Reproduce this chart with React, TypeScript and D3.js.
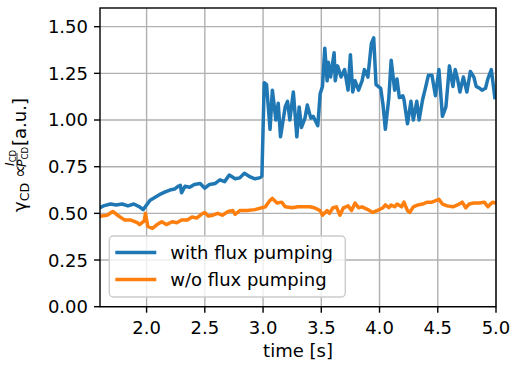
import React, { useEffect, useRef } from 'react';
import * as d3 from 'd3';

// with flux pumping (blue)
const withTime = [1.60, 1.63, 1.69, 1.74, 1.79, 1.84, 1.89, 1.94, 1.97, 2.00, 2.03, 2.07, 2.11, 2.16, 2.20, 2.24, 2.27, 2.29, 2.30, 2.33, 2.37, 2.41, 2.46, 2.50, 2.54, 2.59, 2.63, 2.67, 2.71, 2.76, 2.80, 2.84, 2.89, 2.93, 2.97, 2.99, 3.01, 3.03, 3.06, 3.08, 3.11, 3.13, 3.15, 3.19, 3.21, 3.23, 3.26, 3.29, 3.31, 3.33, 3.36, 3.38, 3.41, 3.43, 3.47, 3.49, 3.51, 3.53, 3.55, 3.56, 3.58, 3.61, 3.62, 3.64, 3.67, 3.70, 3.73, 3.75, 3.77, 3.79, 3.82, 3.85, 3.87, 3.90, 3.93, 3.95, 3.97, 4.01, 4.03, 4.05, 4.08, 4.10, 4.13, 4.15, 4.17, 4.20, 4.21, 4.24, 4.27, 4.29, 4.32, 4.34, 4.37, 4.39, 4.42, 4.45, 4.48, 4.51, 4.54, 4.57, 4.60, 4.63, 4.65, 4.67, 4.69, 4.72, 4.75, 4.78, 4.81, 4.83, 4.86, 4.88, 4.91, 4.93, 4.96, 4.99];
const withValue = [0.53, 0.54, 0.55, 0.545, 0.55, 0.54, 0.55, 0.535, 0.52, 0.545, 0.57, 0.585, 0.60, 0.615, 0.625, 0.63, 0.645, 0.65, 0.61, 0.645, 0.64, 0.655, 0.66, 0.635, 0.655, 0.66, 0.68, 0.67, 0.705, 0.685, 0.69, 0.715, 0.695, 0.685, 0.69, 0.70, 1.20, 1.19, 0.95, 1.16, 1.00, 1.09, 0.91, 1.07, 1.10, 1.00, 1.15, 0.91, 1.07, 0.96, 1.01, 1.08, 1.01, 1.02, 0.97, 1.14, 1.18, 1.385, 1.21, 1.31, 1.23, 1.36, 1.21, 1.29, 1.23, 1.27, 1.16, 1.35, 1.15, 1.21, 1.16, 1.21, 1.27, 1.23, 1.41, 1.44, 1.19, 1.17, 1.08, 0.95, 1.12, 1.32, 1.16, 1.22, 1.12, 1.13, 1.11, 0.98, 1.10, 1.00, 1.10, 1.00, 1.11, 1.16, 1.24, 1.24, 1.13, 1.27, 1.02, 1.07, 1.29, 1.18, 1.27, 1.22, 1.15, 1.23, 1.15, 1.26, 1.23, 1.18, 1.17, 1.16, 1.17, 1.22, 1.27, 1.12];

// w/o flux pumping (orange)
const woTime = [1.60, 1.66, 1.71, 1.75, 1.81, 1.86, 1.92, 1.94, 1.98, 1.99, 2.01, 2.05, 2.09, 2.13, 2.17, 2.22, 2.26, 2.30, 2.35, 2.39, 2.43, 2.47, 2.50, 2.53, 2.57, 2.61, 2.65, 2.70, 2.74, 2.76, 2.80, 2.86, 2.93, 2.99, 3.02, 3.06, 3.08, 3.12, 3.16, 3.19, 3.25, 3.30, 3.36, 3.40, 3.44, 3.49, 3.51, 3.55, 3.57, 3.60, 3.63, 3.66, 3.69, 3.73, 3.76, 3.79, 3.82, 3.85, 3.90, 3.94, 3.98, 4.03, 4.05, 4.08, 4.10, 4.13, 4.15, 4.19, 4.21, 4.24, 4.26, 4.29, 4.33, 4.37, 4.41, 4.45, 4.51, 4.54, 4.58, 4.63, 4.67, 4.71, 4.74, 4.77, 4.81, 4.86, 4.90, 4.93, 4.97, 5.00];
const woValue = [0.485, 0.49, 0.51, 0.49, 0.465, 0.465, 0.45, 0.44, 0.46, 0.50, 0.43, 0.42, 0.44, 0.455, 0.44, 0.455, 0.45, 0.465, 0.465, 0.48, 0.475, 0.495, 0.505, 0.485, 0.49, 0.50, 0.49, 0.51, 0.515, 0.495, 0.515, 0.515, 0.52, 0.53, 0.535, 0.57, 0.58, 0.555, 0.56, 0.535, 0.53, 0.535, 0.535, 0.535, 0.53, 0.515, 0.49, 0.515, 0.50, 0.53, 0.535, 0.49, 0.53, 0.54, 0.515, 0.555, 0.53, 0.535, 0.52, 0.505, 0.515, 0.53, 0.545, 0.53, 0.545, 0.535, 0.55, 0.535, 0.56, 0.515, 0.505, 0.535, 0.545, 0.55, 0.56, 0.56, 0.575, 0.55, 0.54, 0.535, 0.545, 0.56, 0.53, 0.55, 0.555, 0.555, 0.56, 0.535, 0.56, 0.555];

const xTicks = [2.0, 2.5, 3.0, 3.5, 4.0, 4.5, 5.0];
const yTicks = [0, 0.25, 0.5, 0.75, 1.0, 1.25, 1.5];
const seriesNames = ['with flux pumping', 'w/o flux pumping'];
const seriesColors = ['#1f77b4', '#ff7f0e'];

const App = () => {
  const svgRef = useRef<SVGSVGElement>(null);

  useEffect(() => {
    const svg = d3.select(svgRef.current);
    svg.selectAll('*').remove();

    const width = 513;
    const height = 367;
    const margin = { top: 8, right: 17, bottom: 60.3, left: 100 };
    const innerWidth = width - margin.left - margin.right;
    const innerHeight = height - margin.top - margin.bottom;
    const font = 'DejaVu Sans, sans-serif';
    const fs = 18;

    const x = d3.scaleLinear().domain([1.6, 5.0]).range([0, innerWidth]);
    const y = d3.scaleLinear().domain([0, 1.6]).range([innerHeight, 0]);

    const g = svg.append('g').attr('transform', `translate(${margin.left},${margin.top})`);

    // grid
    g.selectAll('.gx').data(xTicks).enter().append('line')
      .attr('x1', d => x(d)).attr('x2', d => x(d))
      .attr('y1', 0).attr('y2', innerHeight)
      .attr('stroke', '#b0b0b0').attr('stroke-width', 1.4);
    g.selectAll('.gy').data(yTicks).enter().append('line')
      .attr('x1', 0).attr('x2', innerWidth)
      .attr('y1', d => y(d)).attr('y2', d => y(d))
      .attr('stroke', '#b0b0b0').attr('stroke-width', 1.4);

    // lines
    const clipId = 'plotclip';
    svg.append('defs').append('clipPath').attr('id', clipId)
      .append('rect').attr('width', innerWidth).attr('height', innerHeight);

    const line = d3.line<[number, number]>().x(d => x(d[0])).y(d => y(d[1]));
    const series = [
      withTime.map((t, i) => [t, withValue[i]] as [number, number]),
      woTime.map((t, i) => [t, woValue[i]] as [number, number]),
    ];
    series.forEach((s, i) => {
      g.append('path')
        .attr('d', line(s))
        .attr('fill', 'none')
        .attr('stroke', seriesColors[i])
        .attr('stroke-width', 3.5)
        .attr('stroke-linejoin', 'round')
        .attr('stroke-linecap', 'square')
        .attr('clip-path', `url(#${clipId})`);
    });

    // spines
    g.append('rect')
      .attr('width', innerWidth).attr('height', innerHeight)
      .attr('fill', 'none').attr('stroke', 'black').attr('stroke-width', 1.4);

    // x axis
    const xAxis = g.append('g');
    xTicks.forEach(t => {
      xAxis.append('line').attr('x1', x(t)).attr('x2', x(t))
        .attr('y1', innerHeight).attr('y2', innerHeight + 6)
        .attr('stroke', 'black').attr('stroke-width', 1.4);
      xAxis.append('text').attr('x', x(t)).attr('y', innerHeight + 27)
        .attr('text-anchor', 'middle').attr('font-family', font).attr('font-size', fs)
        .attr('fill', '#000').text(d3.format('.1f')(t));
    });

    // y axis
    const yAxis = g.append('g');
    yTicks.forEach(t => {
      yAxis.append('line').attr('x1', -6).attr('x2', 0)
        .attr('y1', y(t)).attr('y2', y(t))
        .attr('stroke', 'black').attr('stroke-width', 1.4);
      yAxis.append('text').attr('x', -12).attr('y', y(t))
        .attr('dy', '0.36em')
        .attr('text-anchor', 'end').attr('font-family', font).attr('font-size', fs)
        .attr('fill', '#000').text(d3.format('.2f')(t));
    });

    // x label
    g.append('text').attr('x', innerWidth / 2).attr('y', innerHeight + 50)
      .attr('text-anchor', 'middle').attr('font-family', font).attr('font-size', fs)
      .text('time [s]');

    // y label (rotated)
    const yl = svg.append('g').attr('transform', 'translate(26,152) rotate(-90)')
      .attr('font-family', font).attr('fill', '#000');
    const t1 = yl.append('text').attr('x', -60).attr('y', 0).attr('font-size', fs);
    t1.append('tspan').text('γ');
    t1.append('tspan').attr('font-size', 12.5).attr('dy', 3).text('CD');
    yl.append('text').attr('x', -26).attr('y', 0).attr('font-size', fs).text('∝');
    const num = yl.append('text').attr('x', -14).attr('y', -12).attr('font-size', 12.5);
    num.append('tspan').attr('font-style', 'italic').text('I');
    num.append('tspan').attr('font-size', 8.5).attr('dy', 2).text('CD');
    yl.append('line').attr('x1', -15).attr('x2', -1).attr('y1', -9).attr('y2', -9)
      .attr('stroke', '#000').attr('stroke-width', 0.8);
    const den = yl.append('text').attr('x', -15).attr('y', 0).attr('font-size', 12.5);
    den.append('tspan').attr('font-style', 'italic').text('P');
    den.append('tspan').attr('font-size', 8.5).attr('dy', 2).text('CD');
    yl.append('text').attr('x', 6).attr('y', 0).attr('font-size', fs).text('[a.u.]');

    // legend
    const lg = g.append('g').attr('transform', `translate(${109.3 - margin.left},${236 - margin.top})`);
    lg.append('rect').attr('width', 236).attr('height', 61).attr('rx', 4)
      .attr('fill', 'white').attr('fill-opacity', 0.8)
      .attr('stroke', '#cccccc').attr('stroke-width', 1.4);
    seriesNames.forEach((name, i) => {
      const cy = 16.5 + i * 27;
      lg.append('line').attr('x1', 6).attr('x2', 47).attr('y1', cy).attr('y2', cy)
        .attr('stroke', seriesColors[i]).attr('stroke-width', 3.5);
      lg.append('text').attr('x', 61).attr('y', cy).attr('dy', '0.36em')
        .attr('font-family', font).attr('font-size', fs).attr('fill', '#000').text(name);
    });
  }, []);

  return (
    <svg ref={svgRef} width={513} height={367}
      style={{ position: 'absolute', left: 0, top: 0, background: 'white' }} />
  );
};

export default App;
